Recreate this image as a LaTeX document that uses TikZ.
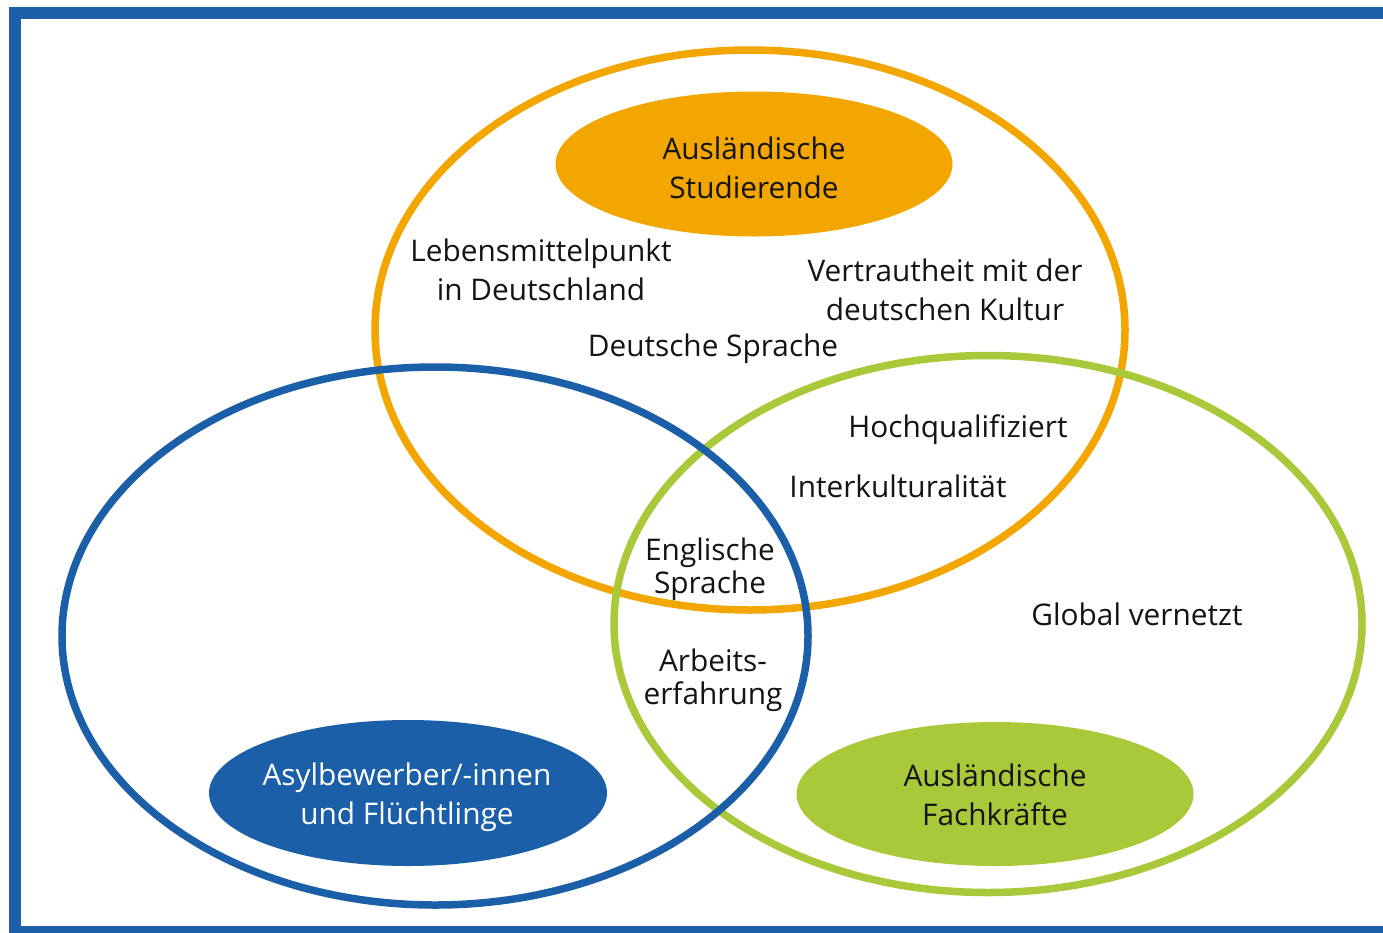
\documentclass[tikz,border=0pt]{standalone}
\usepackage{fontspec}
\setmainfont{Open Sans}
\usetikzlibrary{shapes.geometric}
\definecolor{frameblue}{HTML}{1A5FA8}
\definecolor{ringorange}{HTML}{F3A600}
\definecolor{ringgreen}{HTML}{A9C93A}
\definecolor{txt}{HTML}{141414}
\tikzset{
  ring/.style={ellipse, draw, line width=7.5pt, inner sep=0pt},
  badge/.style={ellipse, inner sep=0pt},
  lbl/.style={align=center, font=\labelfont, text=txt, inner sep=0pt},
  tight/.style={font=\tightfont}
}
\newcommand{\labelfont}{\fontsize{29.8}{39}\selectfont}
\newcommand{\tightfont}{\fontsize{29.8}{33}\selectfont}
\begin{document}
\begin{tikzpicture}[x=1pt,y=-1pt]
  \useasboundingbox (0,0) rectangle (1383,932);
  \clip (0,0) rectangle (1383,932);
  \fill[white] (0,0) rectangle (1383,932);
  % outer frame, running off the right and bottom edges
  \draw[frameblue, line width=12pt] (15,13) rectangle (1400,932);

  % the three overlapping groups
  \node[ring, draw=ringorange, minimum width=750pt, minimum height=560pt] (studring) at (750,330) {};
  \node[ring, draw=ringgreen, minimum width=748pt, minimum height=537pt] (fachring) at (988,624) {};
  \node[ring, draw=frameblue, minimum width=746pt, minimum height=538pt] (asylring) at (435,636) {};

  % group titles
  \node[badge, fill=ringorange, minimum width=397pt, minimum height=145pt] (stud) at (754,164) {};
  \node[badge, fill=frameblue, minimum width=398pt, minimum height=146pt] (asyl) at (408,793) {};
  \node[badge, fill=ringgreen, minimum width=397pt, minimum height=144pt] (fach) at (995,794) {};
  \node[lbl] (studtext) at (754,168) {Ausländische\\Studierende};
  \node[lbl, text=white] (asyltext) at (407,797) {Asylbewerber/-innen\\und Flüchtlinge};
  \node[lbl] (fachtext) at (995,795) {Ausländische\\Fachkräfte};

  % characteristics
  \node[lbl] (lebens) at (541,270) {Lebensmittelpunkt\\in Deutschland};
  \node[lbl] (kultur) at (945,290) {Vertrautheit mit der\\deutschen Kultur};
  \node[lbl] (deutsch) at (713,349) {Deutsche Sprache};
  \node[lbl] (hoch) at (958,430) {Hochqualifiziert};
  \node[lbl] (inter) at (898,486) {Interkulturalität};
  \node[lbl, tight] (englisch) at (710,569) {Englische\\Sprache};
  \node[lbl, tight] (arbeit) at (713,680) {Arbeits-\\erfahrung};
  \node[lbl] (global) at (1137,614) {Global vernetzt};
\end{tikzpicture}
\end{document}
